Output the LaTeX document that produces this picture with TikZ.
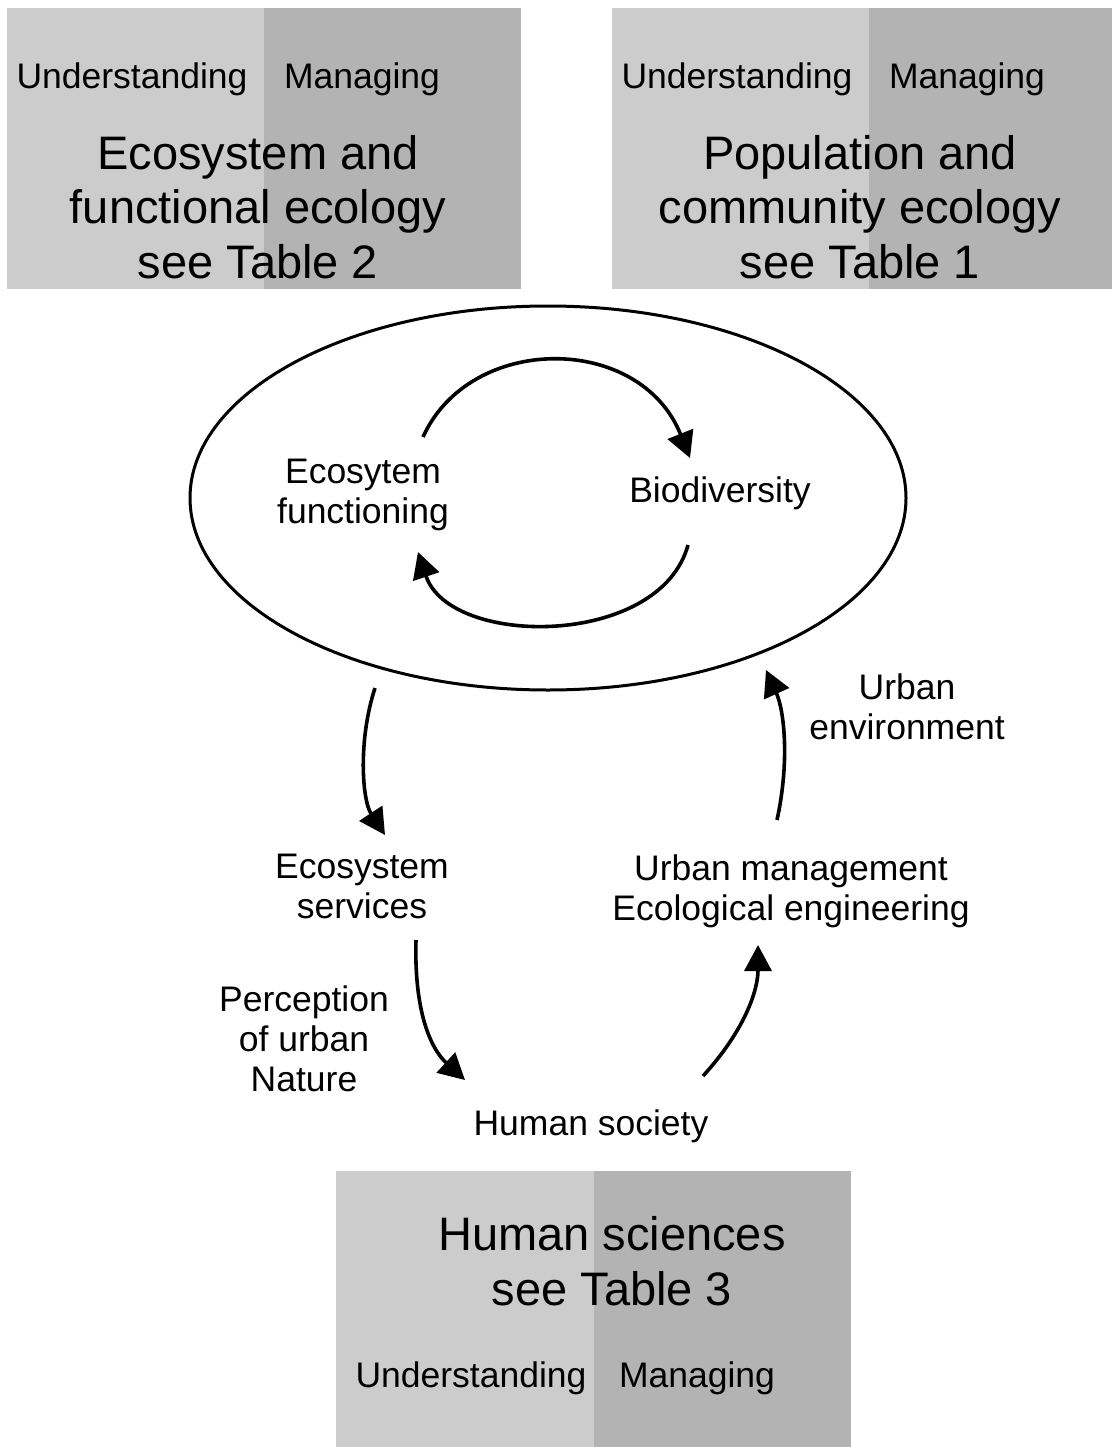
\documentclass[tikz,border=0pt]{standalone}
\usepackage{fontspec}
\setmainfont{Liberation Sans}
\usetikzlibrary{arrows.meta,shapes.geometric}
\definecolor{lightpanel}{HTML}{CCCCCC}
\definecolor{darkpanel}{HTML}{B3B3B3}
\tikzset{
  small/.style={font=\fontsize{35.5}{40}\selectfont, inner sep=0pt, align=center},
  big/.style={font=\fontsize{47}{54.5}\selectfont, inner sep=0pt, align=center},
  flow/.style={line width=3.6pt, -{Triangle[length=26pt,width=27pt]}},
  ring/.style={draw, line width=3pt},
}
\begin{document}
\begin{tikzpicture}[x=1pt,y=-1pt]
\useasboundingbox (0,0) rectangle (1112,1447);
\fill[white] (0,0) rectangle (1112,1447);
% panel 1
\fill[lightpanel] (7,8) rectangle (264,289);
\fill[darkpanel] (264,8) rectangle (521,289);
\node[small] (u1) at (132,79) {Understanding};
\node[small] (m1) at (362,79) {Managing};
\node[big] (t1) at (258,207) {Ecosystem and\\functional ecology\\see Table 2};
% panel 2
\fill[lightpanel] (612,8) rectangle (869,289);
\fill[darkpanel] (869,8) rectangle (1112,289);
\node[small] (u2) at (737,79) {Understanding};
\node[small] (m2) at (967,79) {Managing};
\node[big] (t2) at (860,207) {Population and\\community ecology\\see Table 1};
% panel 3
\fill[lightpanel] (336,1171) rectangle (594,1447);
\fill[darkpanel] (594,1171) rectangle (851,1447);
\node[big] (t3) at (612,1261) {Human sciences\\see Table 3};
\node[small] (u3) at (471,1378) {Understanding};
\node[small] (m3) at (697,1378) {Managing};
% ellipse
\node[ring, ellipse, minimum width=716pt, minimum height=384pt, inner sep=0pt] (eco) at (548,498) {};
\node[small] (ef) at (363,495) {Ecosytem\\functioning};
\node[small] (bio) at (720,493) {Biodiversity};
\coordinate (a1s) at (423,437); \coordinate (a1e) at (690,458);
\coordinate (a2s) at (688,545); \coordinate (a2e) at (418,552);
\draw[flow] (a1s) .. controls (470,333) and (640,333) .. (a1e);
\draw[flow] (a2s) .. controls (660,648) and (450,648) .. (a2e);
% lower loop
\node[small] (es) at (362,886) {Ecosystem\\services};
\node[small] (pn) at (304,1039) {Perception\\of urban\\Nature};
\node[small] (hs) at (591,1126) {Human society};
\node[small] (um) at (791,891) {Urban management\\Ecological engineering};
\node[small] (ue) at (907,707) {Urban\\environment};
\coordinate (b1s) at (375,688); \coordinate (b1e) at (385,835);
\coordinate (b2s) at (416,940); \coordinate (b2e) at (465,1080);
\coordinate (b3s) at (703,1076); \coordinate (b3e) at (758,945);
\coordinate (b4s) at (777,820); \coordinate (b4e) at (766,670);
\draw[flow] (b1s) .. controls (358,740) and (362,800) .. (b1e);
\draw[flow] (b2s) .. controls (414,1010) and (430,1048) .. (b2e);
\draw[flow] (b3s) .. controls (745,1030) and (758,990) .. (b3e);
\draw[flow] (b4s) .. controls (790,760) and (784,710) .. (b4e);
\end{tikzpicture}
\end{document}
